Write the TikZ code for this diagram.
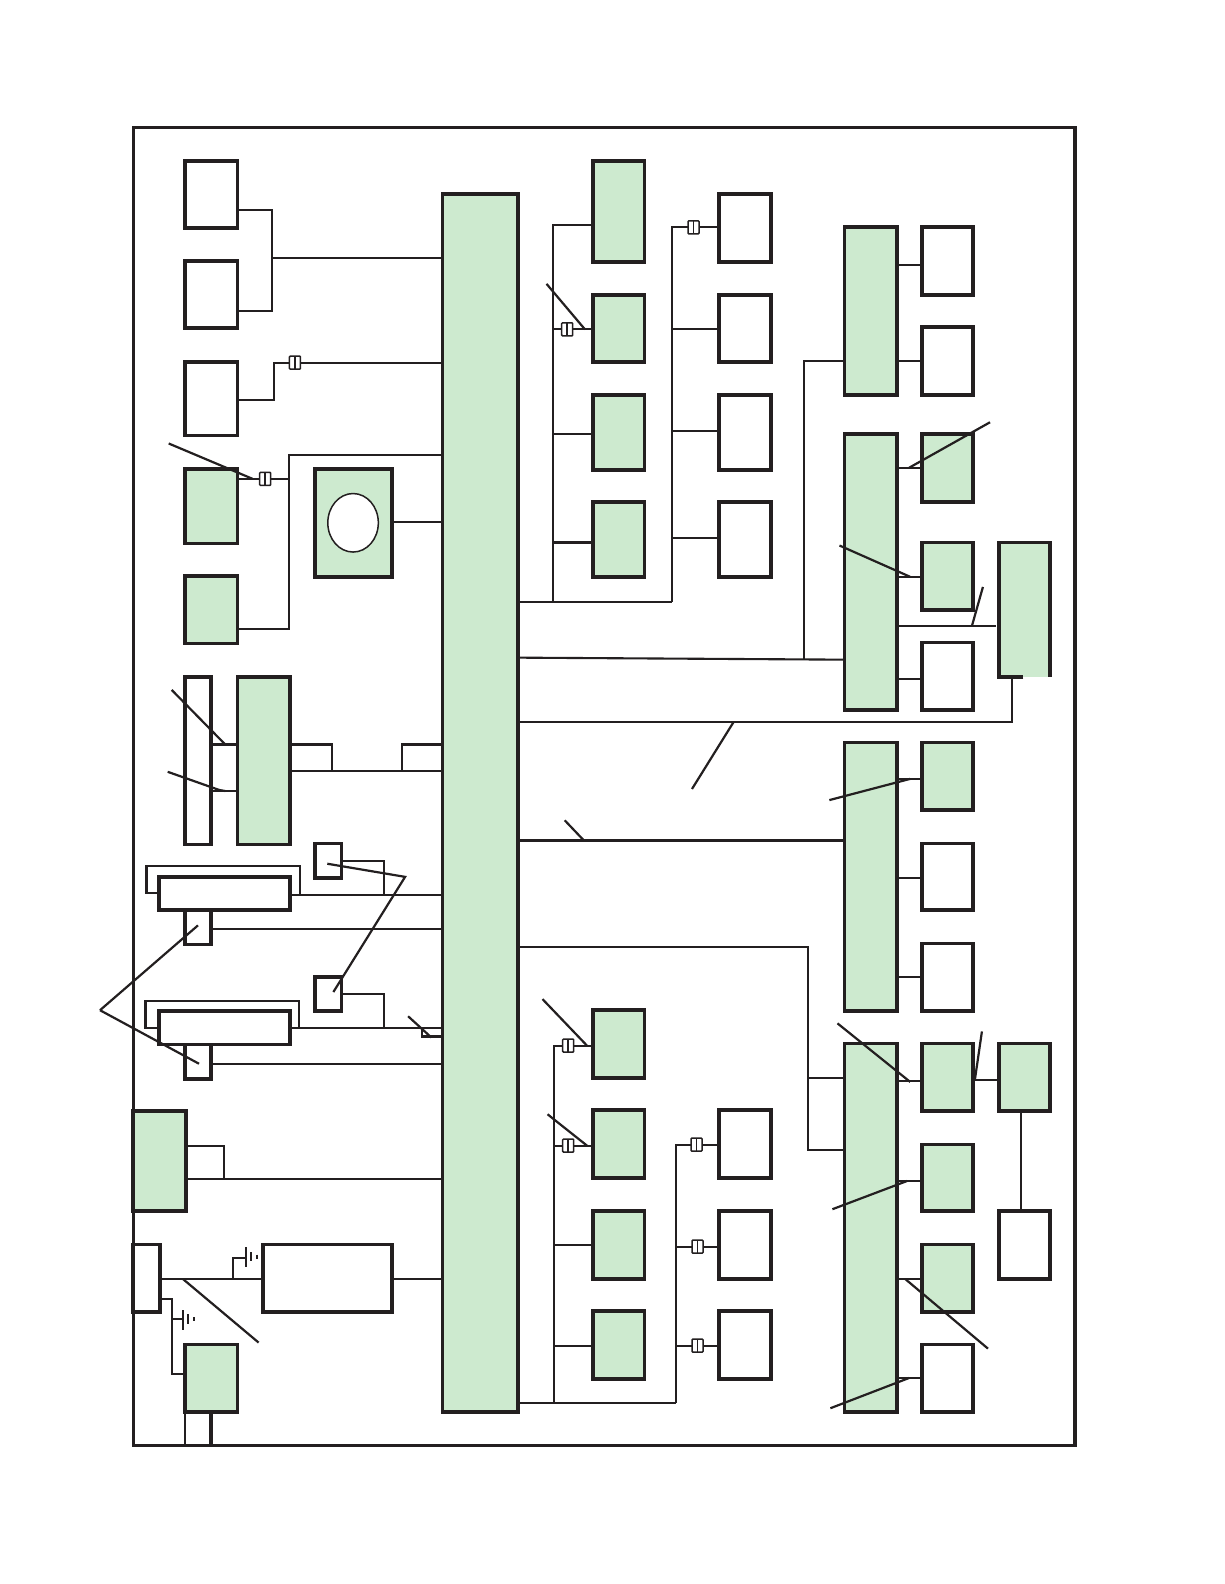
\documentclass[tikz,border=0pt]{standalone}
\usetikzlibrary{shapes.geometric}
\newcommand{\bx}[6]{%
  \pgfmathsetmacro{\bxw}{(#4-#2)*1.0099}%
  \pgfmathsetmacro{\bxh}{(#5-#3)*1.0099}%
  \pgfmathsetmacro{\bxcx}{(#2+#4)/2}%
  \pgfmathsetmacro{\bxcy}{(#3+#5)/2}%
  \node[#6,minimum width=\bxw pt,minimum height=\bxh pt] (#1) at (\bxcx,\bxcy) {};}
\newcommand{\fuse}[3]{\node[fusebox] (#1) at (#2,#3) {};\draw[thinl] (#1.north)--(#1.south);}
\definecolor{gr}{RGB}{205,234,207}
\definecolor{ink}{RGB}{35,31,32}
\tikzset{
  wbox/.style={draw=ink,line width=3.8pt,fill=white,rectangle,inner sep=0pt,outer sep=0pt},
  framebox/.style={wbox,line width=3.4pt},
  gbox/.style={wbox,fill=gr},
  gfill/.style={fill=gr,rectangle,inner sep=0pt,outer sep=0pt},
  fusebox/.style={draw=ink,line width=1.5pt,fill=white,rectangle,rounded corners=0.8pt,inner sep=0pt,outer sep=0pt,minimum width=11pt,minimum height=13pt},
  conn/.style={draw=ink,line width=2.1pt,line join=miter},
  lead/.style={draw=ink,line width=2.2pt,line join=miter},
  thinl/.style={draw=ink,line width=1.5pt},
  gnd/.style={draw=ink,line width=2pt},
  heavy/.style={draw=ink,line width=3.8pt}
}
\begin{document}
\begin{tikzpicture}[x=1.0099pt,y=-1.0099pt]
\useasboundingbox (0,0) rectangle (1212,1568);
\fill[white] (0,0) rectangle (1212,1568);
% frame
\bx{frame}{132}{126}{1064}{1431}{framebox}
% bus
\bx{M}{438}{192}{513}{1398}{gbox}
\coordinate (J1) at (269,255);
\coordinate (J2) at (286,474);
\coordinate (B1) at (547,596);
\coordinate (B2) at (665,596);
\coordinate (C1) at (548,1389);
\coordinate (C2) at (669,1389);
% left column
\bx{w1}{183}{159}{235}{226}{wbox}
\bx{w2}{183}{258}{235}{325}{wbox}
\bx{w3}{183}{358}{235}{431}{wbox}
\bx{g4}{183}{464}{235}{538}{gbox}
\bx{g5}{183}{570}{235}{637}{gbox}
\bx{gc}{312}{464}{388}{571}{gbox}
\node[draw=ink,line width=1.5pt,fill=white,ellipse,inner sep=0pt,minimum width=50.5pt,minimum height=58.5pt] (disc) at (349.5,517.5) {};
\bx{tw}{183}{670}{209}{836}{wbox}
\bx{tg}{235}{670}{287}{836}{gbox}
\bx{s1}{312}{835}{338}{869}{wbox}
\bx{t1}{183}{901}{209}{935}{wbox}
\bx{wd1}{157}{868}{287}{901}{wbox}
\bx{s2}{312}{967}{338}{1001}{wbox}
\bx{t2}{183}{1034}{209}{1068}{wbox}
\bx{wd2}{157}{1001}{287}{1034}{wbox}
\bx{sg}{132}{1100}{184}{1199}{gbox}
\bx{sw}{132}{1232}{158}{1299}{wbox}
\bx{rb}{260}{1232}{388}{1299}{wbox}
\bx{bg}{183}{1331}{235}{1398}{gbox}
\fuse{f1}{292}{359}
\fuse{f2}{262.5}{474}
% left connectors
\draw[conn] (w1.east |- 0,208) -| (J1) |- (w2.east |- 0,308);
\draw[conn] (J1) -- (M.west |- J1);
\draw[conn] (w3.east |- 0,396) -- (271,396) |- (f1.west);
\draw[conn] (f1.east) -- (M.west |- f1);
\draw[conn] (g4.east |- f2) -- (f2.west);
\draw[conn] (f2.east) -- (J2);
\draw[conn] (g5.east |- 0,623) -| (J2) |- (M.west |- 0,450);
\draw[conn] (gc.east |- 0,517) -- (M.west |- 0,517);
\draw[conn] (tw.east |- 0,737) -- (tg.west |- 0,737);
\draw[conn] (tw.east |- 0,783) -- (tg.west |- 0,783);
\draw[conn] (tg.east |- 0,737) -| (329,763);
\draw[conn] (tg.east |- 0,763) -- (M.west |- 0,763);
\draw[conn] (M.west |- 0,737) -| (398,763);
\draw[conn] (wd1.east |- 0,886) -- (M.west |- 0,886);
\draw[conn] (wd1.west |- 0,884) -- (145,884) |- (297,857) |- (wd1.east |- 0,886);
\draw[conn] (s1.east |- 0,852) -| (380,886);
\draw[conn] (t1.east |- 0,920) -- (M.west |- 0,920);
\draw[conn] (wd2.east |- 0,1018) -- (M.west |- 0,1018);
\draw[conn] (wd2.west |- 0,1018) -- (144,1018) |- (296,991) |- (wd2.east |- 0,1018);
\draw[conn] (s2.east |- 0,984) -| (380,1018);
\draw[conn] (418,1018) |- (M.west |- 0,1026);
\draw[conn] (t2.east |- 0,1053) -- (M.west |- 0,1053);
\draw[conn] (sg.east |- 0,1134) -| (222,1167);
\draw[conn] (sg.east |- 0,1167) -- (M.west |- 0,1167);
\draw[conn] (sw.east |- 0,1266) -- (rb.west |- 0,1266);
\draw[conn] (rb.east |- 0,1266) -- (M.west |- 0,1266);
\draw[conn] (231,1266) |- (243.5,1245);
\draw[gnd] (243.5,1234.5) -- (243.5,1254.5) (248.5,1239.5) -- (248.5,1248.5) (254.5,1242) -- (254.5,1246);
\draw[conn] (sw.east |- 0,1286) -| (170,1360) -- (bg.west |- 0,1360);
\draw[conn] (170,1306) -- (181.5,1306);
\draw[gnd] (181.5,1297) -- (181.5,1317) (186,1301) -- (186,1311) (192,1304) -- (192,1308);
\draw[draw=ink,line width=2.6pt] (bg.south -| 183,0) -- (183,1431);
\draw[heavy] (bg.south -| 209,0) -- (209,1431);
% upper middle
\bx{a1}{587}{159}{638}{259}{gbox}
\bx{a2}{587}{292}{638}{358}{gbox}
\bx{a3}{587}{391}{638}{465}{gbox}
\bx{a4}{587}{497}{638}{571}{gbox}
\bx{b1}{712}{192}{763}{259}{wbox}
\bx{b2}{712}{292}{763}{358}{wbox}
\bx{b3}{712}{391}{763}{465}{wbox}
\bx{b4}{712}{497}{763}{571}{wbox}
\fuse{f3}{561.5}{326}
\fuse{f4}{686.5}{225}
\draw[conn] (M.east |- B2) -- (B2);
\draw[conn] (B1) |- (a1.west |- 0,223);
\draw[conn] (B1 |- f3) -- (f3.west);
\draw[conn] (f3.east) -- (a2.west |- f3);
\draw[conn] (B1 |- 0,430) -- (a3.west |- 0,430);
\draw[conn] (B1 |- 0,537) -- (a4.west |- 0,537);
\draw[conn] (B2) |- (f4.west);
\draw[conn] (f4.east) -- (b1.west |- f4);
\draw[conn] (B2 |- 0,326) -- (b2.west |- 0,326);
\draw[conn] (B2 |- 0,427) -- (b3.west |- 0,427);
\draw[conn] (B2 |- 0,533) -- (b4.west |- 0,533);
% lower middle
\bx{c1}{587}{1000}{638}{1067}{gbox}
\bx{c2}{587}{1099}{638}{1166}{gbox}
\bx{c3}{587}{1199}{638}{1266}{gbox}
\bx{c4}{587}{1298}{638}{1365}{gbox}
\bx{d2}{712}{1099}{763}{1166}{wbox}
\bx{d3}{712}{1199}{763}{1266}{wbox}
\bx{d4}{712}{1298}{763}{1365}{wbox}
\fuse{f5}{562.5}{1035}
\fuse{f6}{562.5}{1134}
\fuse{f7}{689.5}{1133}
\fuse{f8}{690.5}{1234}
\fuse{f9}{690.5}{1332}
\draw[conn] (M.east |- C2) -- (C2);
\draw[conn] (C1) |- (f5.west);
\draw[conn] (f5.east) -- (c1.west |- f5);
\draw[conn] (C1 |- f6) -- (f6.west);
\draw[conn] (f6.east) -- (c2.west |- f6);
\draw[conn] (C1 |- 0,1232) -- (c3.west |- 0,1232);
\draw[conn] (C1 |- 0,1332) -- (c4.west |- 0,1332);
\draw[conn] (C2) |- (f7.west);
\draw[conn] (f7.east) -- (d2.west |- f7);
\draw[conn] (C2 |- f8) -- (f8.west);
\draw[conn] (f8.east) -- (d3.west |- f8);
\draw[conn] (C2 |- f9) -- (f9.west);
\draw[conn] (f9.east) -- (d4.west |- f9);
% right part
\bx{e1}{836}{225}{888}{391}{gbox}
\bx{e2}{913}{225}{963}{292}{wbox}
\bx{e3}{913}{324}{963}{391}{wbox}
\bx{h1}{836}{430}{888}{703}{gbox}
\bx{h2}{913}{430}{963}{497}{gbox}
\bx{h3}{913}{537}{963}{604}{gbox}
\bx{h4}{913}{636}{963}{703}{wbox}
\bx{k1}{836}{735}{888}{1001}{gbox}
\bx{k2}{913}{735}{963}{802}{gbox}
\bx{k3}{913}{835}{963}{901}{wbox}
\bx{k4}{913}{934}{963}{1001}{wbox}
\bx{n1}{836}{1033}{888}{1398}{gbox}
\bx{n2}{913}{1033}{963}{1100}{gbox}
\bx{n3}{913}{1133}{963}{1199}{gbox}
\bx{n4}{913}{1232}{963}{1299}{gbox}
\bx{n5}{913}{1331}{963}{1398}{wbox}
\bx{p1}{989}{1033}{1039}{1100}{gbox}
\bx{p2}{989}{1199}{1039}{1266}{wbox}
\bx{q}{989}{537}{1039}{670}{gfill}
\draw[heavy,line cap=butt] (1013,670) -- (989,670) -- (989,537) -- (1039,537) -- (1039,670);
\coordinate (R1) at (796,652);
\coordinate (R2) at (800,1067);
\draw[conn] (e1.east |- 0,262) -- (e2.west |- 0,262);
\draw[conn] (e1.east |- 0,357) -- (e3.west |- 0,357);
\draw[conn] (e1.west |- 0,357) -| (R1);
\draw[conn] (M.east |- 0,651) -- (h1.west |- 0,653);
\draw[conn] (h1.east |- 0,463) -- (h2.west |- 0,463);
\draw[conn] (h1.east |- 0,571) -- (h3.west |- 0,571);
\draw[conn] (h1.east |- 0,672) -- (h4.west |- 0,672);
\draw[conn] (h1.east |- 0,620) -- (986,620);
\draw[conn] (M.east |- 0,715) -| (1002,670);
\draw[conn] (k1.east |- 0,771) -- (k2.west |- 0,771);
\draw[conn] (k1.east |- 0,869) -- (k3.west |- 0,869);
\draw[conn] (k1.east |- 0,967) -- (k4.west |- 0,967);
\draw[conn] (M.east |- 0,832) -- (k1.west |- 0,832);
\draw[conn] (M.east |- 0,937) -| (800,1138) -- (n1.west |- 0,1138);
\draw[conn] (R2) -- (n1.west |- R2);
\draw[conn] (n1.east |- 0,1070) -- (n2.west |- 0,1070);
\draw[conn] (n1.east |- 0,1169) -- (n3.west |- 0,1169);
\draw[conn] (n1.east |- 0,1266) -- (n4.west |- 0,1266);
\draw[conn] (n1.east |- 0,1364) -- (n5.west |- 0,1364);
\draw[conn] (n2.east |- 0,1069) -- (p1.west |- 0,1069);
\draw[conn] (p1.south -| 1011,0) -- (p2.north -| 1011,0);
% leader lines
\draw[lead] (170,683) -- (223,737);
\draw[lead] (166,764) -- (217,782) -- (223,783);
\draw[lead] (167,439) -- (250,474);
\draw[lead] (541,281) -- (579,326);
\draw[lead] (537,989) -- (581,1035);
\draw[lead] (542,1103) -- (581,1134);
\draw[lead] (99,1000) -- (196,916);
\draw[lead] (99,1000) -- (197,1053);
\draw[lead] (324,855) -- (401,868) -- (330,982);
\draw[lead] (404,1006) -- (427,1027);
\draw[lead] (181,1266) -- (256,1329);
\draw[lead] (726,715) -- (685,781);
\draw[lead] (559,812) -- (578,832);
\draw[lead] (980,418) -- (900,463);
\draw[lead] (831,540) -- (901,571);
\draw[lead] (973,581) -- (962,620);
\draw[lead] (821,792) -- (901,771);
\draw[lead] (829,1013) -- (901,1071);
\draw[lead] (824,1197) -- (898,1169);
\draw[lead] (896,1266) -- (978,1335);
\draw[lead] (822,1394) -- (900,1364);
\draw[lead] (972,1021) -- (965,1069);
\end{tikzpicture}
\end{document}
